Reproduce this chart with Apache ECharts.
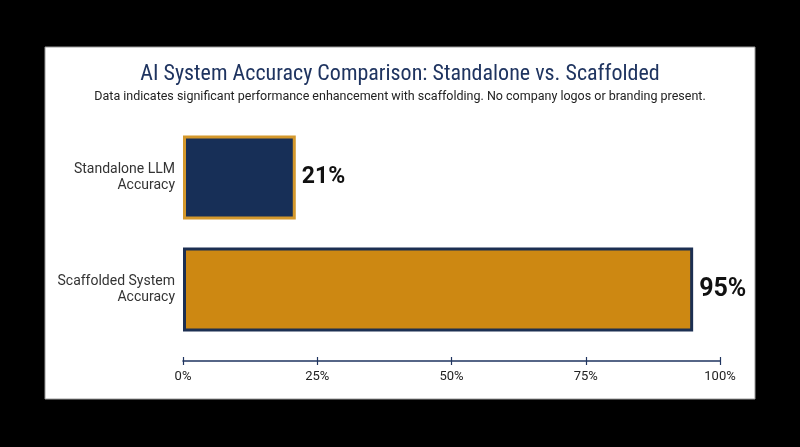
<!DOCTYPE html>
<html>
<head>
<meta charset="utf-8">
<script src="https://cdn.jsdelivr.net/npm/echarts@6/dist/echarts.min.js"></script>
<style>
  html, body { margin: 0; padding: 0; background: #000; }
  #chart { width: 800px; height: 447px; }
</style>
</head>
<body>
<div id="chart"></div>
<script>
const categories = ['Standalone LLM\nAccuracy', 'Scaffolded System\nAccuracy'];
const accuracy = [21, 95];
const ticks = [0, 25, 50, 75, 100];

const navy = '#172f57';
const gold = '#cd8812';

const chart = echarts.init(document.getElementById('chart'));
const option = {
  backgroundColor: '#000',
  textStyle: { fontFamily: 'Roboto' },
  graphic: [
    {
      type: 'rect',
      shape: { x: 45, y: 47, width: 710, height: 352 },
      style: { fill: '#fff', stroke: '#9a9a9a', lineWidth: 1 },
      z: -10
    }
  ],
  title: {
    text: 'AI System Accuracy Comparison: Standalone vs. Scaffolded',
    subtext: 'Data indicates significant performance enhancement with scaffolding. No company logos or branding present.',
    left: 'center',
    top: 58,
    itemGap: 5,
    textStyle: { color: '#1f3460', fontSize: 22, fontWeight: 'normal', fontFamily: 'Roboto Condensed, Roboto' },
    subtextStyle: { color: '#222', fontSize: 12.5, fontFamily: 'Roboto' }
  },
  grid: { left: 183, right: 80, top: 121.5, bottom: 101.5 },
  xAxis: [
    {
      type: 'value',
      min: 0,
      max: 100,
      interval: 25,
      offset: 15.5,
      axisLine: { show: true, lineStyle: { color: '#1f3460', width: 1.5 } },
      axisTick: { show: true, length: 4, lineStyle: { color: '#1f3460', width: 1.2 } },
      splitLine: { show: false },
      axisLabel: { color: '#222', fontSize: 13, margin: 9, formatter: v => (ticks.includes(v) ? v + '%' : '') }
    },
    {
      type: 'value',
      min: 0,
      max: 100,
      interval: 25,
      position: 'bottom',
      offset: 15.5,
      axisLine: { show: false },
      axisTick: { show: true, inside: true, length: 4, lineStyle: { color: '#1f3460', width: 1.2 } },
      splitLine: { show: false },
      axisLabel: { show: false }
    }
  ],
  yAxis: {
    type: 'category',
    inverse: true,
    data: categories,
    axisLine: { show: false },
    axisTick: { show: false },
    axisLabel: { color: '#333', fontSize: 14, lineHeight: 16, margin: 8, align: 'right' }
  },
  series: [
    {
      type: 'bar',
      xAxisIndex: 0,
      barWidth: 84,
      data: accuracy.map((v, i) => ({
        value: v,
        itemStyle: i === 0
          ? { color: navy, borderColor: '#d4982c', borderWidth: 3 }
          : { color: gold, borderColor: '#1c2f52', borderWidth: 3 },
        label: { fontSize: i === 0 ? 23 : 25 }
      })),
      label: {
        show: true,
        position: 'right',
        distance: 6,
        color: '#111',
        fontWeight: 'bold',
        formatter: p => p.value + '%'
      }
    }
  ]
};
chart.setOption(option);
window.addEventListener('resize', () => {
  chart.resize();
});
</script>
</body>
</html>
